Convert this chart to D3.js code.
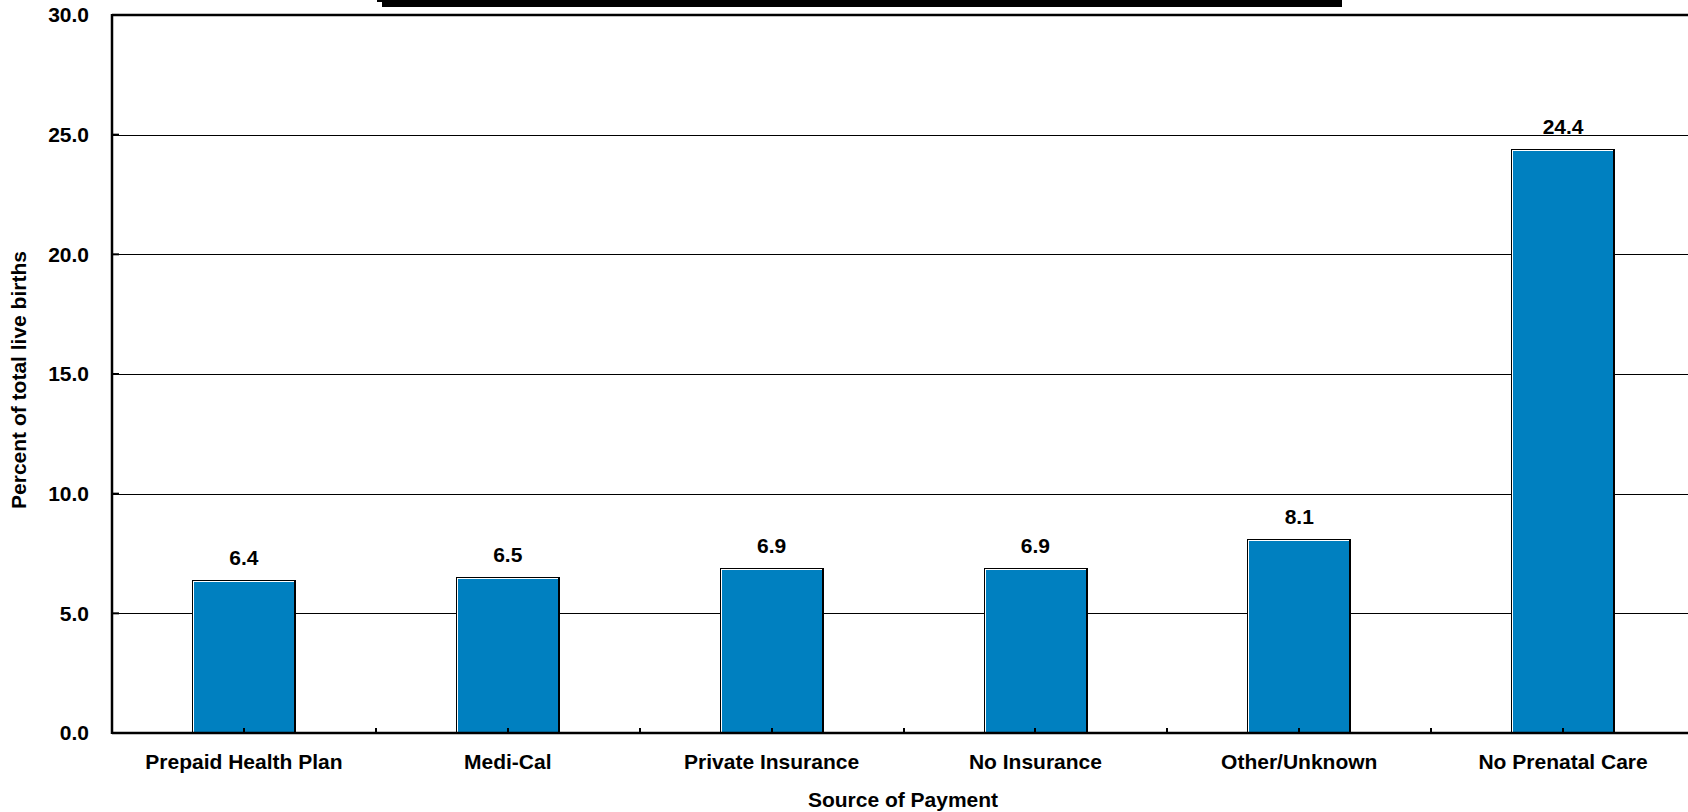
<!DOCTYPE html>
<html>
<head>
<meta charset="utf-8">
<script src="https://cdn.jsdelivr.net/npm/d3@7"></script>
<style>
html,body{margin:0;padding:0;background:#fff;overflow:hidden;}
svg{display:block;}
text{font-family:"Liberation Sans",Arial,Helvetica,sans-serif;font-weight:bold;fill:#000;}
</style>
</head>
<body>
<svg id="chart" width="1688" height="812"></svg>
<script>
const categories = ["Prepaid Health Plan","Medi-Cal","Private Insurance","No Insurance","Other/Unknown","No Prenatal Care"];
const values = [6.4, 6.5, 6.9, 6.9, 8.1, 24.4];
const yTicks = [0, 5, 10, 15, 20, 25, 30];
const xTitle = "Source of Payment";
const yTitle = "Percent of total live births";

const svg = d3.select("#chart");
const pLeft = 112, pRight = 1695, pTop = 15, pBottom = 733;
const fs = 21;

const x = d3.scaleBand().domain(categories).range([pLeft, pRight]).paddingInner(0.607).paddingOuter(0.3035);
const y = d3.scaleLinear().domain([0, 30]).range([pBottom, pTop]);

// title box remnant at top
svg.append("rect").attr("x", 382).attr("y", 0).attr("width", 960).attr("height", 7).attr("fill", "#000");
svg.append("rect").attr("x", 377).attr("y", 0).attr("width", 6).attr("height", 2).attr("fill", "#000");

// gridlines
svg.append("g").selectAll("line").data(yTicks.filter(d => d > 0 && d < 30)).join("line")
  .attr("x1", pLeft).attr("x2", 1688)
  .attr("y1", d => Math.round(y(d)) + 0.5).attr("y2", d => Math.round(y(d)) + 0.5)
  .attr("stroke", "#000").attr("stroke-width", 1);

// bars
const bars = svg.append("g").selectAll("g").data(categories).join("g");
bars.each(function(c, i) {
  const g = d3.select(this);
  const x0 = Math.round(x(c)), w = Math.round(x.bandwidth()), yt = Math.round(y(values[i]));
  const h = pBottom - yt;
  g.append("rect").attr("x", x0).attr("y", yt).attr("width", w).attr("height", h).attr("fill", "#000");
  g.append("rect").attr("x", x0 + 1).attr("y", yt + 1).attr("width", w - 3).attr("height", h - 1).attr("fill", "#fff");
  g.append("rect").attr("x", x0 + 2).attr("y", yt + 2).attr("width", w - 4).attr("height", h - 2).attr("fill", "#0080C0");
});

// value labels
svg.append("g").selectAll("text").data(categories).join("text")
  .attr("x", c => x(c) + x.bandwidth() / 2)
  .attr("y", (c, i) => y(values[i]) - 15)
  .attr("text-anchor", "middle")
  .attr("font-size", fs)
  .text((c, i) => values[i].toFixed(1));

// axes lines
svg.append("line").attr("x1", pLeft).attr("x2", 1688).attr("y1", pBottom).attr("y2", pBottom).attr("stroke", "#000").attr("stroke-width", 2.5);
svg.append("line").attr("x1", pLeft).attr("x2", 1688).attr("y1", pTop).attr("y2", pTop).attr("stroke", "#000").attr("stroke-width", 2.5);
svg.append("line").attr("x1", pLeft).attr("x2", pLeft).attr("y1", pTop - 1).attr("y2", pBottom + 1).attr("stroke", "#000").attr("stroke-width", 2.5);

// y ticks (inward) and labels
const yAxis = svg.append("g");
yAxis.selectAll("line").data(yTicks).join("line")
  .attr("x1", pLeft).attr("x2", pLeft + 7)
  .attr("y1", d => y(d)).attr("y2", d => y(d))
  .attr("stroke", "#000").attr("stroke-width", 2);
yAxis.selectAll("text").data(yTicks).join("text")
  .attr("x", 89).attr("y", d => y(d))
  .attr("dy", "0.35em")
  .attr("text-anchor", "end")
  .attr("font-size", fs)
  .text(d => d3.format(".1f")(d));

// x ticks: at centers and boundaries, inward
const step = x.step();
const tickPos = [];
categories.forEach((c, i) => { tickPos.push(x(c) + x.bandwidth() / 2); if (i < categories.length - 1) tickPos.push(pLeft + step * (i + 1)); });
svg.append("g").selectAll("line").data(tickPos).join("line")
  .attr("x1", d => Math.round(d)).attr("x2", d => Math.round(d))
  .attr("y1", pBottom).attr("y2", pBottom - 5)
  .attr("stroke", "#000").attr("stroke-width", 2);

// category labels
svg.append("g").selectAll("text").data(categories).join("text")
  .attr("x", c => x(c) + x.bandwidth() / 2)
  .attr("y", 769)
  .attr("text-anchor", "middle")
  .attr("font-size", fs)
  .text(c => c);

// axis titles
svg.append("text").attr("x", 903).attr("y", 807)
  .attr("text-anchor", "middle").attr("font-size", fs).text(xTitle);
svg.append("text").attr("transform", "translate(26,380) rotate(-90)")
  .attr("text-anchor", "middle").attr("font-size", fs).text(yTitle);
</script>
</body>
</html>
